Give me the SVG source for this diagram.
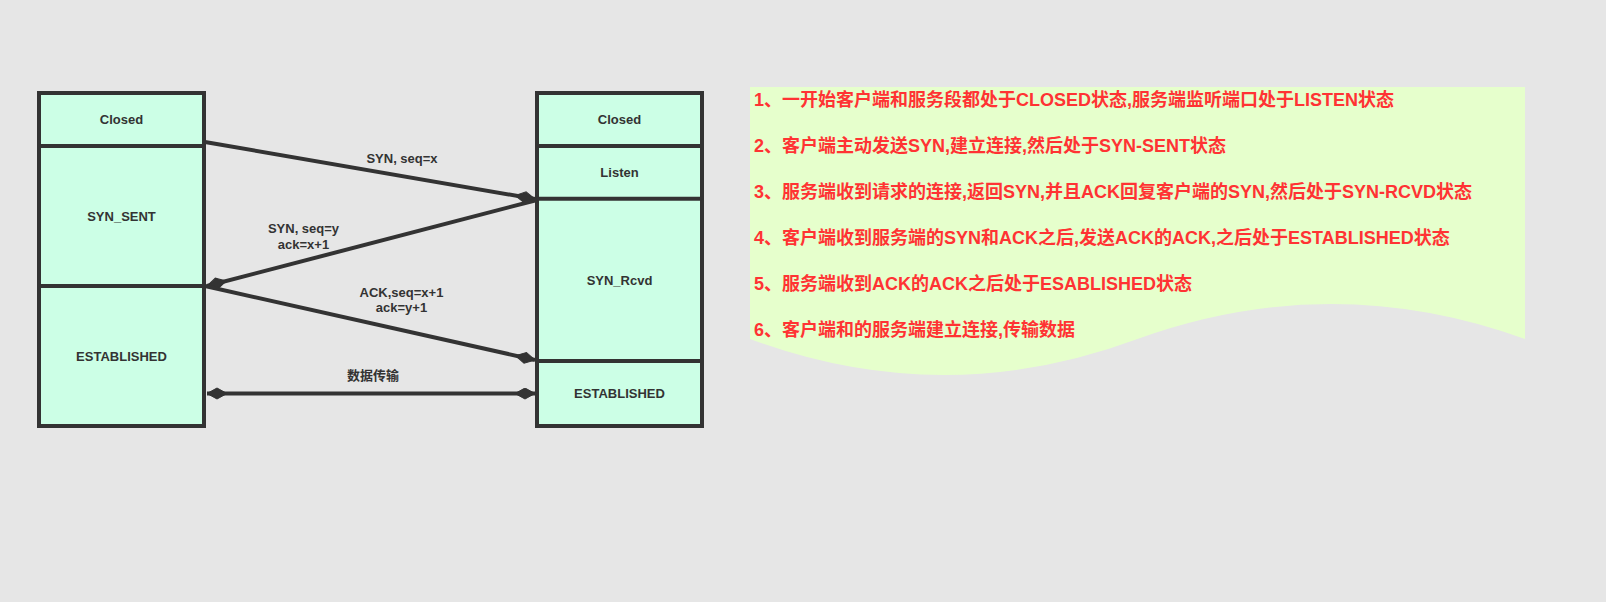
<svg xmlns="http://www.w3.org/2000/svg" width="1606" height="602" viewBox="0 0 1606 602">
<style>
.box{fill:#ccffe6;stroke:#333333;stroke-width:4;}
.div{stroke:#333333;stroke-width:4;fill:none;}
.lbl{font-family:"Liberation Sans",Arial,Helvetica,"Noto Sans CJK SC",sans-serif;font-size:13px;font-weight:bold;fill:#333333;text-anchor:middle;}
.edge{stroke:#333333;stroke-width:4;fill:none;}
.note{font-family:"Liberation Sans",Arial,"Noto Sans CJK SC",sans-serif;font-size:18px;font-weight:bold;fill:#ff3333;}
</style>
<defs>
<marker id="dia" markerUnits="userSpaceOnUse" markerWidth="22" markerHeight="14" refX="20" refY="6" orient="auto-start-reverse" viewBox="0 0 22 14">
<path d="M0,6 L10,0.5 L20,6 L10,11.5 Z" fill="#333333" stroke="#333333" stroke-width="1"/>
</marker>
</defs>
<rect x="0" y="0" width="1606" height="602" fill="#e6e6e6"/>

<g id="client">
<rect class="box" x="39" y="93" width="165" height="333"/>
<line class="div" x1="39" y1="146" x2="204" y2="146"/>
<line class="div" x1="39" y1="286" x2="204" y2="286"/>
<text class="lbl" x="121.5" y="124">Closed</text>
<text class="lbl" x="121.5" y="220.5">SYN_SENT</text>
<text class="lbl" x="121.5" y="360.5">ESTABLISHED</text>
</g>

<g id="server">
<rect class="box" x="537" y="93" width="165" height="333"/>
<line class="div" x1="537" y1="146" x2="702" y2="146"/>
<line class="div" x1="537" y1="198.7" x2="702" y2="198.7"/>
<line class="div" x1="537" y1="361" x2="702" y2="361"/>
<text class="lbl" x="619.5" y="124">Closed</text>
<text class="lbl" x="619.5" y="176.5">Listen</text>
<text class="lbl" x="619.5" y="284.5">SYN_Rcvd</text>
<text class="lbl" x="619.5" y="398">ESTABLISHED</text>
</g>

<g id="connectors">
<line class="edge" x1="205" y1="142" x2="535" y2="199" marker-end="url(#dia)"/>
<line class="edge" x1="537" y1="200" x2="207" y2="286" marker-end="url(#dia)"/>
<line class="edge" x1="205" y1="286" x2="535" y2="360" marker-end="url(#dia)"/>
<line class="edge" x1="207" y1="393.5" x2="535" y2="393.5" marker-start="url(#dia)" marker-end="url(#dia)"/>
<text class="lbl" x="402" y="162.5">SYN, seq=x</text>
<text class="lbl" x="303.5" y="233">SYN, seq=y</text>
<text class="lbl" x="303.5" y="248.5">ack=x+1</text>
<text class="lbl" x="401.5" y="296.5">ACK,seq=x+1</text>
<text class="lbl" x="401.5" y="312">ack=y+1</text>
<text class="lbl" x="373" y="379.5">数据传输</text>
</g>

<g id="notes">
<path d="M750,87 H1525 V339 Q1331.25,269 1137.5,339 Q943.75,411 750,339 Z" fill="#e6ffcc"/>
<text class="note" x="754" y="106">1、一开始客户端和服务段都处于CLOSED状态,服务端监听端口处于LISTEN状态</text>
<text class="note" x="754" y="152">2、客户端主动发送SYN,建立连接,然后处于SYN-SENT状态</text>
<text class="note" x="754" y="198">3、服务端收到请求的连接,返回SYN,并且ACK回复客户端的SYN,然后处于SYN-RCVD状态</text>
<text class="note" x="754" y="244">4、客户端收到服务端的SYN和ACK之后,发送ACK的ACK,之后处于ESTABLISHED状态</text>
<text class="note" x="754" y="290">5、服务端收到ACK的ACK之后处于ESABLISHED状态</text>
<text class="note" x="754" y="335.5">6、客户端和的服务端建立连接,传输数据</text>
</g>
</svg>
